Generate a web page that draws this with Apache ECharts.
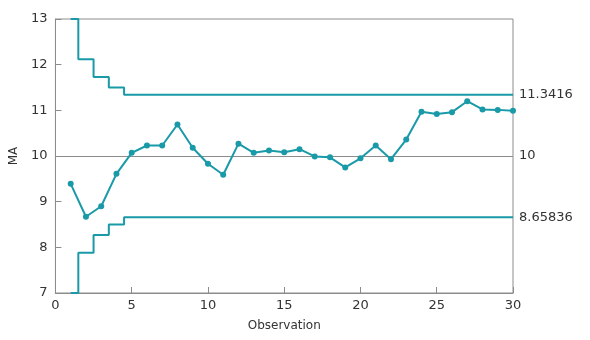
<!DOCTYPE html>
<html><head><meta charset="utf-8">
<script src="https://cdn.jsdelivr.net/npm/echarts@6/dist/echarts.min.js"></script>
<style>html,body{margin:0;padding:0;background:#fff}#c{width:590px;height:340px}</style>
</head><body><div id="c"></div>
<script>
const observations = [1,2,3,4,5,6,7,8,9,10,11,12,13,14,15,16,17,18,19,20,21,22,23,24,25,26,27,28,29,30];
const maValues = [9.39,8.67,8.90,9.61,10.07,10.23,10.23,10.69,10.18,9.83,9.59,10.27,10.07,10.12,10.08,10.15,9.99,9.97,9.75,9.95,10.23,9.93,10.36,10.97,10.92,10.96,11.20,11.02,11.01,10.99];
const uclValues = [13,12.1213,11.7321,11.5,11.3416,11.3416,11.3416,11.3416,11.3416,11.3416,11.3416,11.3416,11.3416,11.3416,11.3416,11.3416,11.3416,11.3416,11.3416,11.3416,11.3416,11.3416,11.3416,11.3416,11.3416,11.3416,11.3416,11.3416,11.3416,11.3416];
const lclValues = [7,7.8787,8.2679,8.5,8.65836,8.65836,8.65836,8.65836,8.65836,8.65836,8.65836,8.65836,8.65836,8.65836,8.65836,8.65836,8.65836,8.65836,8.65836,8.65836,8.65836,8.65836,8.65836,8.65836,8.65836,8.65836,8.65836,8.65836,8.65836,8.65836];
const centerLine = 10;
const limitLabels = ['11.3416','10','8.65836'];
const teal = '#1a9aa8';
const font = 'DejaVu Sans';
const pair = (ys) => observations.map((x,i)=>[x, ys[i]]);
const chart = echarts.init(document.getElementById('c'));
const endLabel = (txt) => ({show:true,position:'end',formatter:txt,fontFamily:font,fontSize:13,color:'#333',distance:6});
chart.setOption({
  animation:false,
  grid:{left:51,right:77,top:19,bottom:47,show:true,borderColor:'#8c8c8c',borderWidth:1},
  xAxis:{type:'value',min:0,max:30,interval:5,name:'Observation',nameLocation:'middle',nameGap:27,
    nameTextStyle:{fontFamily:font,fontSize:12,color:'#333'},
    axisLine:{lineStyle:{color:'#8c8c8c'}},axisTick:{inside:true,length:6,lineStyle:{color:'#8c8c8c'}},
    axisLabel:{fontFamily:font,fontSize:13,color:'#333',margin:6},splitLine:{show:false}},
  yAxis:{type:'value',min:7,max:13,interval:1,name:'MA',nameLocation:'middle',nameGap:32,nameRotate:90,
    nameTextStyle:{fontFamily:font,fontSize:12,color:'#333'},
    axisLine:{show:true,lineStyle:{color:'#8c8c8c'}},axisTick:{show:true,inside:true,length:6,lineStyle:{color:'#8c8c8c'}},
    axisLabel:{fontFamily:font,fontSize:13,color:'#333',margin:8},splitLine:{show:false}},
  series:[
    {type:'line',data:pair(uclValues),step:'middle',symbol:'none',lineStyle:{color:teal,width:2},
     markLine:{silent:true,symbol:'none',lineStyle:{color:'rgba(0,0,0,0)',width:1,type:'solid'},
       label:endLabel(limitLabels[0]),
       data:[{yAxis:uclValues[uclValues.length-1]}]}},
    {type:'line',data:pair(lclValues),step:'middle',symbol:'none',lineStyle:{color:teal,width:2},
     markLine:{silent:true,symbol:'none',lineStyle:{color:'rgba(0,0,0,0)',width:1,type:'solid'},
       label:endLabel(limitLabels[2]),
       data:[{yAxis:lclValues[lclValues.length-1]}]}},
    {type:'line',data:pair(maValues),symbol:'circle',symbolSize:6,itemStyle:{color:teal},lineStyle:{color:teal,width:2},z:5,
     markLine:{silent:true,symbol:'none',lineStyle:{color:'#8c8c8c',width:1,type:'solid'},
       label:endLabel(limitLabels[1]),
       data:[{yAxis:centerLine}]}}
  ]
});
</script></body></html>
